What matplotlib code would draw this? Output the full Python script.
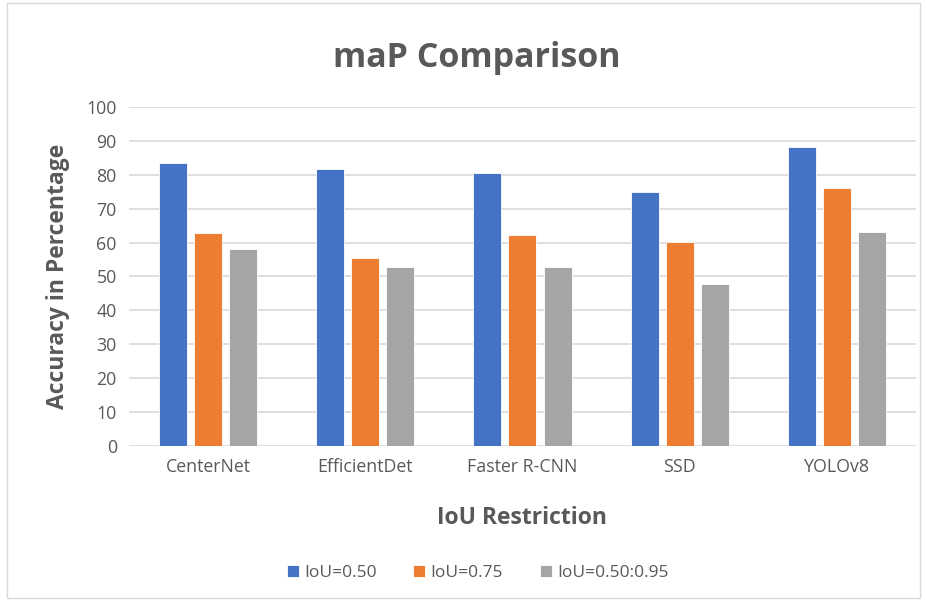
import numpy as np
import matplotlib
matplotlib.use("Agg")
import matplotlib.pyplot as plt

# Data
models = ["CenterNet", "EfficientDet", "Faster R-CNN", "SSD", "YOLOv8"]
iou_50 = [83.5, 81.8, 80.4, 74.9, 88.2]
iou_75 = [62.8, 55.5, 62.1, 60.3, 76.2]
iou_50_95 = [58.1, 52.7, 52.7, 47.9, 63.2]
series_names = ["IoU=0.50", "IoU=0.75", "IoU=0.50:0.95"]

plt.rcParams['font.family'] = ['Open Sans', 'DejaVu Sans']
TXT = "#595959"

fig = plt.figure(figsize=(9.26, 6.01), dpi=100)
ax = fig.add_axes([0.1397, 0.258, 0.849, 0.564])

x = np.arange(len(models))
w = 0.178
step = 0.223
colors = ["#4472C4", "#ED7D31", "#A5A5A5"]
for i, (vals, name) in enumerate(zip([iou_50, iou_75, iou_50_95], series_names)):
    ax.bar(x + (i - 1) * step, vals, width=w, color=colors[i], label=name,
           edgecolor="white", linewidth=0.6, zorder=3)

ax.set_ylim(0, 100)
ax.set_xlim(-0.5, len(models) - 0.5)
ax.set_yticks(range(0, 101, 10))
ax.yaxis.grid(True, color="#D9D9D9", linewidth=1.2, zorder=0)
ax.set_axisbelow(True)
for s in ["top", "right", "left", "bottom"]:
    ax.spines[s].set_visible(False)
ax.tick_params(length=0, labelsize=12.8, colors=TXT, pad=9)
ax.set_xticks(x)
ax.set_xticklabels(models)

ax.set_ylabel("Accuracy in Percentage", fontsize=16.5, fontweight="bold", color=TXT, labelpad=12)
ax.set_xlabel("IoU Restriction", fontsize=16.5, fontweight="bold", color=TXT, labelpad=21)
fig.text(0.515, 0.903, "maP Comparison", ha="center", va="center",
         fontsize=24.5, fontweight="bold", color=TXT)

ax.legend(loc="center", bbox_to_anchor=(0.443, -0.375), ncol=3, frameon=False,
          fontsize=12.5, labelcolor=TXT, handlelength=0.7, handleheight=0.7,
          columnspacing=2.1, handletextpad=0.3)

# light frame around the chart
fig.patches.append(plt.Rectangle((0.008, 0.005), 0.985, 0.99, transform=fig.transFigure,
                                 fill=False, edgecolor="#D9D9D9", linewidth=1))

plt.savefig("out.png", dpi=100)
